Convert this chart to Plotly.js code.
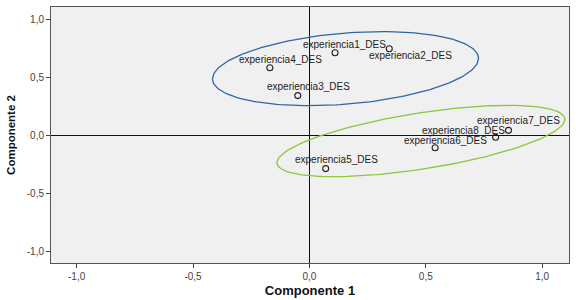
<!DOCTYPE html>
<html><head><meta charset="utf-8">
<script src="https://cdn.plot.ly/plotly-3.0.1.min.js"></script>
<style>html,body{margin:0;padding:0;background:#fff}#chart{width:576px;height:300px}</style>
</head><body><div id="chart"></div>
<script>
// Data
var variableNames = ["experiencia1_DES","experiencia2_DES","experiencia3_DES","experiencia4_DES",
                     "experiencia5_DES","experiencia6_DES","experiencia7_DES","experiencia8_DES"];
var componente1 = [0.11, 0.343, -0.05, -0.17, 0.07, 0.54, 0.855, 0.80];
var componente2 = [0.715, 0.75, 0.345, 0.586, -0.285, -0.105, 0.045, -0.015];
var tickValues = [-1.0, -0.5, 0.0, 0.5, 1.0];
var tickLabels = ["-1,0", "-0,5", "0,0", "0,5", "1,0"];

// Group ellipses (center, two conjugate half-axis vectors, in data units)
var ellipseCenters = [[0.155, 0.578], [0.479, -0.047]];
var ellipseAxisU = [[0.571, 0.095], [0.618, 0.194]];
var ellipseAxisV = [[-0.0125, 0.305], [-0.0185, 0.239]];
var ellipseColors = ["#2f65a3", "#8cc63e"];

// Label offsets in pixels (styling)
var labelShiftX = [9, 21, 11, 11, 11, 10, 10, -32];
var labelShiftY = [8, -7, 9, 8, 9, 7, 10, 7];

var traces = [];
for (var k = 0; k < ellipseCenters.length; k++) {
  var ex = [], ey = [];
  for (var i = 0; i <= 200; i++) {
    var t = 2 * Math.PI * i / 200;
    ex.push(ellipseCenters[k][0] + ellipseAxisU[k][0] * Math.cos(t) + ellipseAxisV[k][0] * Math.sin(t));
    ey.push(ellipseCenters[k][1] + ellipseAxisU[k][1] * Math.cos(t) + ellipseAxisV[k][1] * Math.sin(t));
  }
  traces.push({x: ex, y: ey, mode: "lines", line: {color: ellipseColors[k], width: 1.3},
               hoverinfo: "skip", showlegend: false});
}
traces.push({x: componente1, y: componente2, mode: "markers", text: variableNames,
  marker: {symbol: "circle-open", size: 6, color: "#222", line: {width: 1.1, color: "#222"}},
  showlegend: false});

var annotations = variableNames.map(function (n, i) {
  return {x: componente1[i], y: componente2[i], text: n, showarrow: false,
          xshift: labelShiftX[i], yshift: labelShiftY[i],
          font: {family: "Liberation Sans, Arial, sans-serif", size: 10, color: "#222"}};
});

var axisCommon = {
  tickvals: tickValues, ticktext: tickLabels, ticks: "outside", ticklen: 4, tickwidth: 1,
  tickcolor: "#444", showgrid: false, zeroline: true, zerolinecolor: "#111", zerolinewidth: 1.6,
  showline: true, mirror: true, linecolor: "#555", linewidth: 1,
  tickfont: {family: "Liberation Sans, Arial, sans-serif", size: 10, color: "#444"}
};

var layout = {
  width: 576, height: 300,
  margin: {l: 51, r: 7, t: 7, b: 37},
  paper_bgcolor: "#ffffff", plot_bgcolor: "#f0f0f0",
  xaxis: Object.assign({}, axisCommon, {range: [-1.11, 1.115],
    title: {text: "Componente 1", standoff: 4,
            font: {family: "Liberation Sans, Arial, sans-serif", size: 13, color: "#111", weight: "bold"}}}),
  yaxis: Object.assign({}, axisCommon, {range: [-1.10, 1.11],
    title: {text: "Componente 2", standoff: 8,
            font: {family: "Liberation Sans, Arial, sans-serif", size: 11.5, color: "#111", weight: "bold"}}}),
  annotations: annotations,
  showlegend: false
};

Plotly.newPlot("chart", traces, layout, {displayModeBar: false, staticPlot: true});
</script>
</body></html>
